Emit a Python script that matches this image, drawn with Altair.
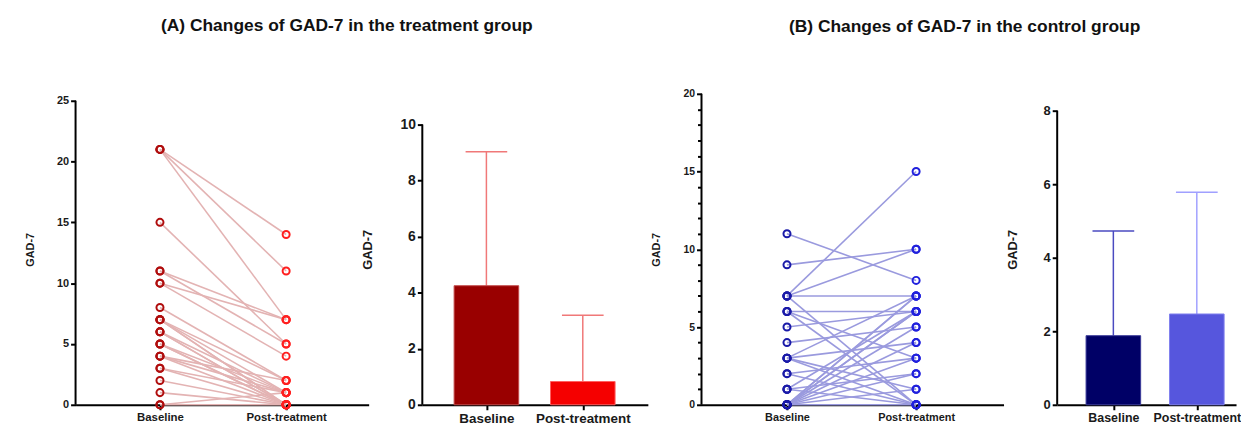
import altair as alt
import pandas as pd

FONT = "Liberation Sans"

# ---- data: treatment group (paired) ----
t_base = [21, 21, 21, 15, 11, 11, 10, 10, 8, 7, 7, 7, 7, 6, 6, 6, 5, 5, 5, 4, 4, 4, 3, 3, 2, 1, 0, 0]
t_post = [14, 11, 7, 5, 7, 5, 7, 4, 2, 1, 0, 2, 0, 0, 1, 0, 0, 1, 0, 0, 2, 1, 0, 1, 0, 0, 0, 1]

# ---- data: control group (paired) ----
c_base = [11, 9, 7, 7, 7, 7, 6, 6, 6, 5, 4, 3, 3, 3, 3, 2, 2, 1, 1, 1, 0, 0, 0, 0, 0, 0, 0, 0, 0, 0]
c_post = [8, 10, 15, 10, 7, 0, 6, 0, 3, 6, 5, 4, 0, 1, 7, 3, 0, 2, 6, 0, 7, 7, 6, 5, 4, 3, 2, 1, 0, 6]

# ---- bar summaries ----
groups = ["Baseline", "Post-treatment"]
t_mean = [4.25, 0.83]
t_upper = [9.03, 3.2]
c_mean = [1.88, 2.47]
c_upper = [4.73, 5.78]

# tick values
a1_ticks = [0, 5, 10, 15, 20, 25]
a2_ticks = [0, 2, 4, 6, 8, 10]
b1_ticks = [0, 5, 10, 15, 20]
b1_minor = [1, 2, 3, 4, 6, 7, 8, 9, 11, 12, 13, 14, 16, 17, 18, 19]
b2_ticks = [0, 2, 4, 6, 8]


def paired_df(base, post):
    rows = []
    for i, (b, p) in enumerate(zip(base, post)):
        rows.append({"id": i, "t": 0, "v": b})
        rows.append({"id": i, "t": 1, "v": p})
    return pd.DataFrame(rows)


def bar_df(means, uppers):
    return pd.DataFrame({"t": [0, 1], "g": groups, "mean": means, "upper": uppers, "zero": [0, 0]})


def x_axis(label_size):
    return alt.Axis(values=[0, 1], title=None, grid=False,
                    labelExpr="datum.value == 0 ? 'Baseline' : 'Post-treatment'",
                    domainColor="black", domainWidth=2, tickColor="black",
                    tickWidth=2, tickSize=5, labelFont=FONT, labelFontWeight="bold",
                    labelFontSize=label_size, labelColor="#1a1a1a", labelPadding=2)


def y_axis(vals, label_size, title_size, title_pad):
    return alt.Axis(values=vals, title="GAD-7", grid=False, domain=False,
                    tickColor="black", tickWidth=2, tickSize=5,
                    labelFont=FONT, labelFontWeight="bold", labelFontSize=label_size,
                    labelColor="#1a1a1a", labelPadding=2,
                    titleFont=FONT, titleFontWeight="bold", titleFontSize=title_size,
                    titleColor="#1a1a1a", titlePadding=title_pad)


def axis_line(ytop, ys=None):
    d = pd.DataFrame({"y0": [0], "y1": [ytop]})
    yenc = alt.Y("y0:Q", scale=ys, axis=None) if ys is not None else alt.Y("y0:Q")
    return alt.Chart(d).mark_rule(color="black", strokeWidth=2).encode(
        x=alt.value(0), y=yenc, y2="y1:Q")


def paired_panel(df, width, xdom, ymax, ytop, yvals, line_color, base_color, post_color,
                 xlab, ylab, ytit, tpad, minor=None):
    indep = minor is not None
    xs = alt.Scale(domain=xdom, nice=False, zero=False)
    ys = alt.Scale(domain=[0, ymax], nice=False, zero=False)
    lines = alt.Chart(df).mark_line(color=line_color, strokeWidth=1.6).encode(
        x=alt.X("t:Q", scale=xs, axis=x_axis(xlab)),
        y=alt.Y("v:Q", scale=ys, axis=y_axis(yvals, ylab, ytit, tpad)),
        detail="id:N")
    pts = alt.Chart(df).mark_point(shape="circle", filled=False, size=50, strokeWidth=2,
                                   opacity=1).encode(
        x="t:Q", y=alt.Y("v:Q", scale=ys, axis=None) if indep else alt.Y("v:Q"),
        color=alt.condition("datum.t == 0", alt.value(base_color), alt.value(post_color)))
    if indep:
        mdf = pd.DataFrame({"m": minor})
        minor_layer = alt.Chart(mdf).mark_point(opacity=0).encode(
            y=alt.Y("m:Q", scale=ys,
                    axis=alt.Axis(orient="left", values=minor, labels=False,
                                  title=None, domain=False, grid=False,
                                  tickSize=4, tickWidth=2, tickColor="black")))
        return alt.layer(lines, pts, axis_line(ytop, ys), minor_layer).resolve_axis(
            y="independent").properties(width=width, height=313)
    return alt.layer(lines, pts, axis_line(ytop)).properties(width=width, height=313)


def bar_panel(df, width, xdom, half, cap, ymax, ytop, yvals, bar_colors, bar_strokes, err_colors,
              xlab, ylab, ytit, tpad):
    xs = alt.Scale(domain=xdom, nice=False, zero=False)
    ys = alt.Scale(domain=[0, ymax], nice=False, zero=False)
    base = alt.Chart(df).transform_calculate(
        x1=f"datum.t - {half}", x2=f"datum.t + {half}",
        c1=f"datum.t - {cap}", c2=f"datum.t + {cap}")
    ecol = alt.condition("datum.t == 0", alt.value(err_colors[0]), alt.value(err_colors[1]))
    err = base.mark_rule(strokeWidth=1.5).encode(
        x=alt.X("t:Q", scale=xs, axis=x_axis(xlab)),
        y=alt.Y("mean:Q", scale=ys, axis=y_axis(yvals, ylab, ytit, tpad)),
        y2="upper:Q", color=ecol)
    capm = base.mark_rule(strokeWidth=1.5).encode(
        x="c1:Q", x2="c2:Q", y="upper:Q", color=ecol)
    bars = base.mark_bar(strokeWidth=1).encode(
        x="x1:Q", x2="x2:Q", y="zero:Q", y2="mean:Q",
        fill=alt.condition("datum.t == 0", alt.value(bar_colors[0]), alt.value(bar_colors[1])),
        stroke=alt.condition("datum.t == 0", alt.value(bar_strokes[0]), alt.value(bar_strokes[1])))
    return alt.layer(err, capm, bars, axis_line(ytop)).properties(width=width, height=313)


def title_params(text, offset, dx):
    return alt.TitleParams(text, anchor="start", frame="group", dx=dx, offset=offset,
                           fontSize=17.5, font=FONT, fontWeight="bold", color="#111")


a1 = paired_panel(paired_df(t_base, t_post), 295, [-0.669, 1.654], 25.57, 25, a1_ticks,
                  "#e3b3b3", "#b00d0d", "#ff1f1f", 11.5, 11, 11, 21).properties(
    title=title_params("(A) Changes of GAD-7 in the treatment group", 60, 86))

a2 = bar_panel(bar_df(t_mean, t_upper), 227, [-0.665, 1.675], 0.335, 0.216, 11.1, 10,
               a2_ticks, ["#990000", "#f50000"], ["#c24a4a", "#ff6060"],
               ["#f07878", "#f07878"], 13.5, 14, 13, 26)

b1 = paired_panel(paired_df(c_base, c_post), 304, [-0.662, 1.677], 20, 20, b1_ticks,
                  "#9a9ade", "#1a1aa8", "#2020dd", 11, 10.5, 11, 22, minor=b1_minor).properties(
    title=title_params("(B) Changes of GAD-7 in the control group", 54, 88))

b2 = bar_panel(bar_df(c_mean, c_upper), 180, [-0.673, 1.47], 0.327, 0.25, 8.46, 8,
               b2_ticks, ["#000066", "#5656dd"], ["#3a3a99", "#8080ee"],
               ["#4a4ac0", "#a0a0ff"], 12.5, 13, 13, 24)

chart = alt.hconcat(a1, a2, b1, b2, bounds="flush", spacing=54,
                    padding={"left": 16, "top": 7, "right": 0, "bottom": 0},
                    background="white"
                    ).configure_view(strokeWidth=0, stroke=None)

chart.save("out.html", embed_options={"renderer": "svg", "actions": False})
